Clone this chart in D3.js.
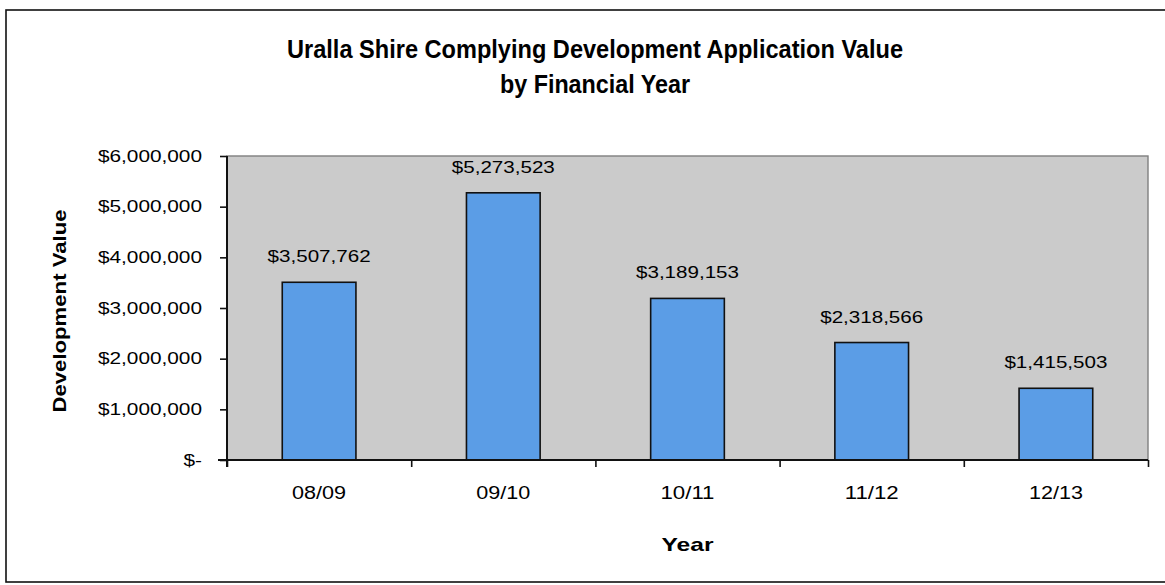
<!DOCTYPE html>
<html>
<head>
<meta charset="utf-8">
<script src="https://cdn.jsdelivr.net/npm/d3@7"></script>
<style>
  html, body { margin: 0; padding: 0; background: #ffffff; }
  svg { display: block; }
  text { font-family: "Liberation Sans", Arial, sans-serif; fill: #000; }
</style>
</head>
<body>
<svg id="chart" width="1165" height="585"></svg>
<script>
const categories = ["08/09", "09/10", "10/11", "11/12", "12/13"];
const values = [3507762, 5273523, 3189153, 2318566, 1415503];
const valueLabels = ["$3,507,762", "$5,273,523", "$3,189,153", "$2,318,566", "$1,415,503"];
const yTicks = [0, 1000000, 2000000, 3000000, 4000000, 5000000, 6000000];
const yTickLabels = ["$-", "$1,000,000", "$2,000,000", "$3,000,000", "$4,000,000", "$5,000,000", "$6,000,000"];
const titleLines = ["Uralla Shire Complying Development Application Value", "by Financial Year"];
const xTitle = "Year";
const yTitle = "Development Value";

const svg = d3.select("#chart");
const plot = { left: 227, top: 156, right: 1148, bottom: 460 };

// outer chart border (right edge lies beyond the picture)
svg.append("rect")
  .attr("x", 6).attr("y", 10)
  .attr("width", 1175).attr("height", 572)
  .attr("fill", "#ffffff").attr("stroke", "#111").attr("stroke-width", 1.6);

const x = d3.scaleBand().domain(categories)
  .range([plot.left, plot.right]).paddingInner(0.6).paddingOuter(0.3);
const xEdge = d3.scaleLinear().domain([0, categories.length]).range([plot.left, plot.right]);
const y = d3.scaleLinear().domain([0, 6000000]).range([plot.bottom, plot.top]);

// plot area
svg.append("rect")
  .attr("x", plot.left).attr("y", plot.top)
  .attr("width", plot.right - plot.left).attr("height", plot.bottom - plot.top)
  .attr("fill", "#cbcbcb").attr("stroke", "#7f7f7f").attr("stroke-width", 1.4);

// bars
svg.append("g").selectAll("rect")
  .data(values)
  .join("rect")
  .attr("x", (d, i) => x(categories[i]))
  .attr("y", d => y(d))
  .attr("width", x.bandwidth())
  .attr("height", d => y(0) - y(d))
  .attr("fill", "#5b9de6")
  .attr("stroke", "#111")
  .attr("stroke-width", 1.6);

// data labels
svg.append("g").selectAll("text")
  .data(values)
  .join("text")
  .attr("x", (d, i) => x(categories[i]) + x.bandwidth() / 2)
  .attr("y", d => y(d) - 20)
  .attr("text-anchor", "middle")
  .attr("font-size", 16)
  .attr("textLength", 103)
  .attr("lengthAdjust", "spacingAndGlyphs")
  .attr("fill", "#111")
  .text((d, i) => valueLabels[i]);

// y axis
const yAxis = svg.append("g")
  .attr("transform", `translate(${plot.left},0)`)
  .call(d3.axisLeft(y).tickValues(yTicks).tickSize(7).tickSizeOuter(0).tickPadding(18)
    .tickFormat((d, i) => yTickLabels[i]));
yAxis.select(".domain").attr("stroke", "#111").attr("stroke-width", 2)
  .attr("d", `M0,${plot.top}V${plot.bottom + 7}`);
yAxis.selectAll(".tick line").attr("stroke", "#111").attr("stroke-width", 1.6);
yAxis.selectAll(".tick text")
  .attr("font-size", 16)
  .attr("font-family", "Liberation Sans, Arial, sans-serif")
  .attr("fill", "#111")
  .each(function () {
    const w = this.getComputedTextLength();
    d3.select(this).attr("textLength", w * 1.3).attr("lengthAdjust", "spacingAndGlyphs");
  });

// x axis: boundary ticks
const xAxisG = svg.append("g")
  .attr("transform", `translate(0,${plot.bottom})`)
  .call(d3.axisBottom(xEdge).tickValues(d3.range(categories.length + 1)).tickSize(7).tickSizeOuter(0).tickFormat(""));
xAxisG.select(".domain").attr("stroke", "#111").attr("stroke-width", 2)
  .attr("d", `M${plot.left - 9},0H${plot.right}`);
xAxisG.selectAll(".tick line").attr("stroke", "#111").attr("stroke-width", 1.6);

// x category labels
const xLab = svg.append("g")
  .attr("transform", `translate(0,${plot.bottom})`)
  .call(d3.axisBottom(x).tickSize(0).tickPadding(0));
xLab.select(".domain").remove();
xLab.selectAll(".tick text")
  .attr("font-size", 18)
  .attr("font-family", "Liberation Sans, Arial, sans-serif")
  .attr("fill", "#111")
  .attr("dy", null)
  .attr("y", 39)
  .attr("textLength", 54)
  .attr("lengthAdjust", "spacingAndGlyphs");

// titles
const title = svg.append("g");
title.append("text")
  .attr("x", 595).attr("y", 58)
  .attr("text-anchor", "middle")
  .attr("font-size", 25).attr("font-weight", "bold")
  .attr("textLength", 616).attr("lengthAdjust", "spacingAndGlyphs")
  .attr("fill", "#111")
  .text(titleLines[0]);
title.append("text")
  .attr("x", 595).attr("y", 93)
  .attr("text-anchor", "middle")
  .attr("font-size", 25).attr("font-weight", "bold")
  .attr("textLength", 190).attr("lengthAdjust", "spacingAndGlyphs")
  .attr("fill", "#111")
  .text(titleLines[1]);

// axis titles
svg.append("text")
  .attr("x", (plot.left + plot.right) / 2).attr("y", 551)
  .attr("text-anchor", "middle")
  .attr("font-size", 19).attr("font-weight", "bold")
  .attr("textLength", 52).attr("lengthAdjust", "spacingAndGlyphs")
  .attr("fill", "#111")
  .text(xTitle);

svg.append("text")
  .attr("transform", `translate(66,${(plot.top + plot.bottom) / 2 + 3}) rotate(-90)`)
  .attr("text-anchor", "middle")
  .attr("font-size", 18).attr("font-weight", "bold")
  .attr("textLength", 203).attr("lengthAdjust", "spacingAndGlyphs")
  .attr("fill", "#111")
  .text(yTitle);
</script>
</body>
</html>
